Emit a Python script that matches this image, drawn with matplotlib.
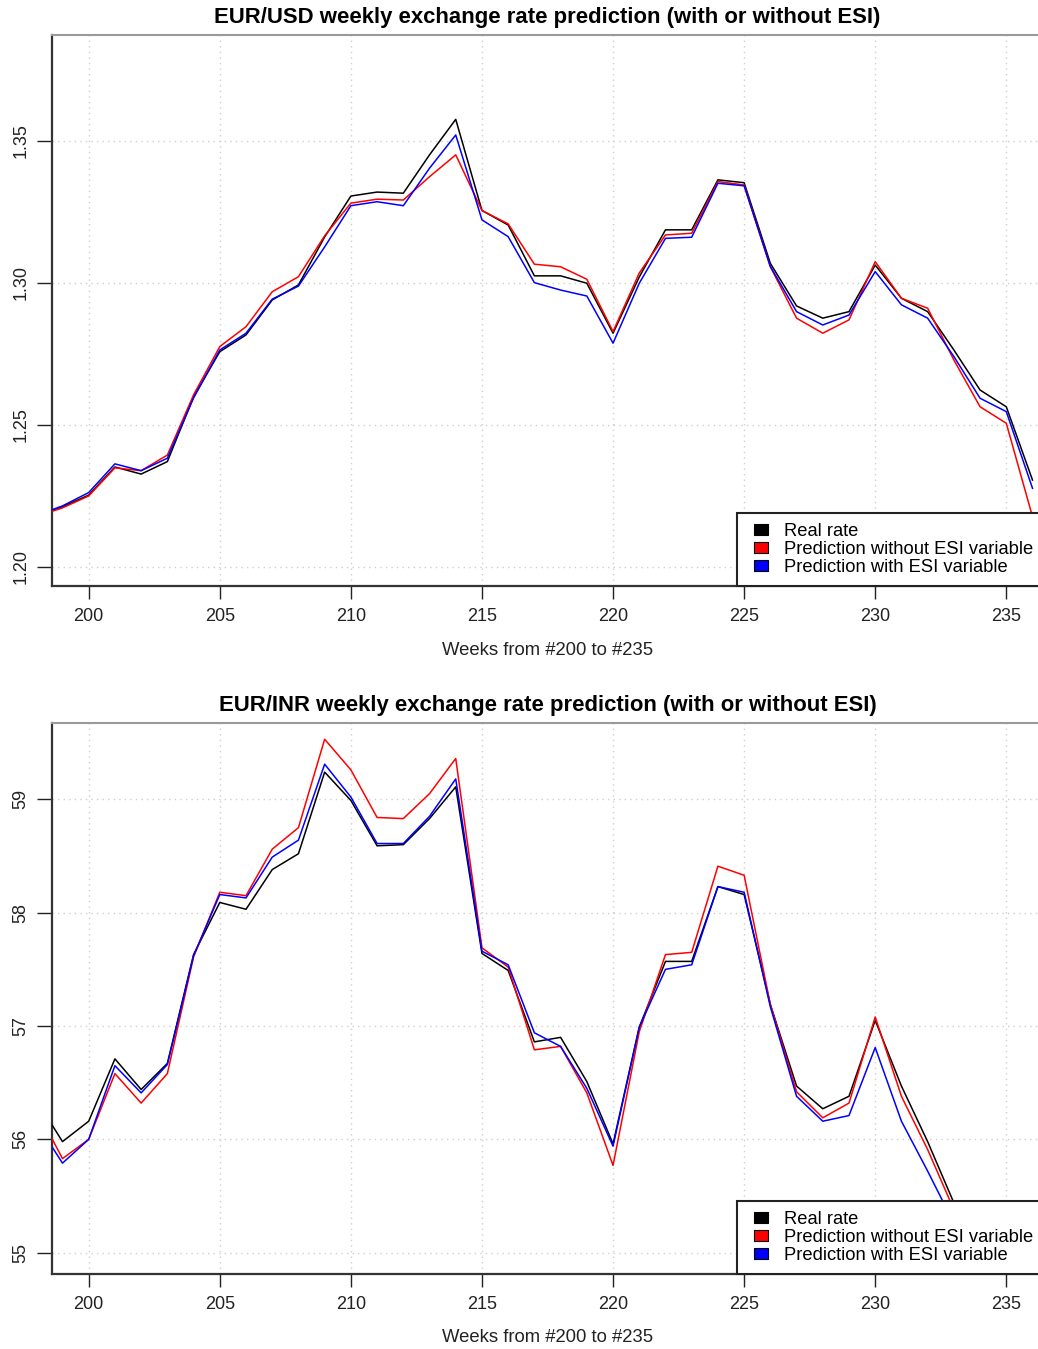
import matplotlib
matplotlib.use("Agg")
import matplotlib.pyplot as plt
from matplotlib.patches import Patch, Rectangle
from matplotlib.legend_handler import HandlerPatch

W, H, DPI = 1038, 1349, 100
FONT = "Liberation Sans"
GRID = "#cfcfcf"
SERIES_COLORS = ["black", "red", "blue"]
LEGEND_LABELS = ["Real rate", "Prediction without ESI variable", "Prediction with ESI variable"]

# EUR/USD, weeks 198..236
weeks_usd = list(range(198, 237))
real_usd = [1.2182, 1.2212, 1.2253, 1.2352, 1.2327, 1.2371, 1.2599, 1.2758, 1.2817, 1.2940,
            1.2993, 1.3162, 1.3306, 1.3320, 1.3316, 1.3451, 1.3576, 1.3255, 1.3204, 1.3025,
            1.3025, 1.2999, 1.2823, 1.3021, 1.3187, 1.3187, 1.3363, 1.3353, 1.3069, 1.2919,
            1.2876, 1.2899, 1.3063, 1.2946, 1.2899, 1.2764, 1.2623, 1.2564, 1.2306]
noesi_usd = [1.2178, 1.2208, 1.2250, 1.2349, 1.2339, 1.2394, 1.2606, 1.2776, 1.2846, 1.2969,
             1.3022, 1.3166, 1.3281, 1.3295, 1.3292, 1.3374, 1.3451, 1.3255, 1.3208, 1.3066,
             1.3057, 1.3013, 1.2829, 1.3035, 1.3169, 1.3175, 1.3357, 1.3345, 1.3057, 1.2876,
             1.2823, 1.2870, 1.3075, 1.2946, 1.2911, 1.2729, 1.2564, 1.2506, 1.2177]
esi_usd = [1.2181, 1.2215, 1.2262, 1.2363, 1.2339, 1.2383, 1.2595, 1.2764, 1.2823, 1.2943,
           1.2989, 1.3127, 1.3272, 1.3286, 1.3272, 1.3404, 1.3521, 1.3222, 1.3163, 1.3001,
           1.2975, 1.2954, 1.2788, 1.2999, 1.3157, 1.3161, 1.3351, 1.3342, 1.3058, 1.2899,
           1.2852, 1.2887, 1.3040, 1.2923, 1.2876, 1.2741, 1.2594, 1.2547, 1.2277]
yticks_usd = [1.20, 1.25, 1.30, 1.35]

# EUR/INR, weeks 198..233
weeks_inr = list(range(198, 234))
real_inr = [56.35, 55.98, 56.16, 56.71, 56.44, 56.67, 57.63, 58.09, 58.03, 58.38,
            58.52, 59.24, 58.99, 58.59, 58.60, 58.83, 59.11, 57.64, 57.49, 56.86,
            56.90, 56.51, 55.96, 56.99, 57.57, 57.57, 58.23, 58.16, 57.19, 56.47,
            56.27, 56.38, 57.05, 56.47, 55.98, 55.44]
noesi_inr = [56.27, 55.83, 56.00, 56.58, 56.32, 56.58, 57.61, 58.18, 58.15, 58.56,
             58.75, 59.53, 59.26, 58.84, 58.83, 59.05, 59.36, 57.69, 57.52, 56.79,
             56.82, 56.41, 55.77, 56.95, 57.63, 57.65, 58.41, 58.33, 57.19, 56.42,
             56.19, 56.32, 57.08, 56.38, 55.91, 55.38]
esi_inr = [56.15, 55.79, 56.00, 56.65, 56.41, 56.66, 57.62, 58.16, 58.13, 58.49,
           58.64, 59.31, 59.02, 58.61, 58.61, 58.85, 59.18, 57.66, 57.54, 56.94,
           56.82, 56.45, 55.94, 56.99, 57.50, 57.54, 58.23, 58.18, 57.17, 56.38,
           56.16, 56.21, 56.81, 56.16, 55.72, 55.26]
yticks_inr = [55, 56, 57, 58, 59]

xticks = [200, 205, 210, 215, 220, 225, 230, 235]
XLIM = (198.6, 236.4)

plt.rcParams["font.family"] = [FONT, "DejaVu Sans"]


def fill_square(legend, orig_handle, xdescent, ydescent, width, height, fontsize):
    # small filled box pushed to the right end of the handle slot
    side = 10.0
    return Rectangle((width - side - xdescent, -ydescent), side, height)


def px_axes(fig, left, top, right, bottom):
    return fig.add_axes([left / W, 1 - bottom / H, (right - left) / W, (bottom - top) / H])


def draw_panel(fig, box, weeks, series, ylim, yticks, ylabels, title):
    left, top, right, bottom = box
    ax = px_axes(fig, left, top, right, bottom)
    for vals, color in zip(series, SERIES_COLORS):
        ax.plot(weeks, vals, color=color, linewidth=1.1, zorder=3)

    ax.set_xlim(*XLIM)
    ax.set_ylim(*ylim)
    ax.set_xticks(xticks)
    ax.set_yticks(yticks)
    ax.set_yticklabels(ylabels, rotation=90, va="center")
    ax.grid(True, color=GRID, linestyle=(0, (1, 3)), linewidth=1.0, zorder=0)
    ax.tick_params(axis="x", length=9, width=1.0, pad=6.5, labelsize=13, colors="#222222")
    ax.tick_params(axis="y", length=11, width=1.0, pad=5, labelsize=13, colors="#222222")

    ax.spines["right"].set_visible(False)
    ax.spines["top"].set_color("#9a9a9a")
    ax.spines["top"].set_linewidth(1.5)
    for side in ("left", "bottom"):
        ax.spines[side].set_color("#333333")
        ax.spines[side].set_linewidth(1.6)

    handles = [Patch(facecolor=c, edgecolor="black", linewidth=0.8) for c in SERIES_COLORS]
    leg = ax.legend(handles, LEGEND_LABELS, loc="lower right", bbox_to_anchor=(1, 0),
                    borderaxespad=0, fontsize=13.2, frameon=True, fancybox=False,
                    framealpha=1, handlelength=1.17, handleheight=0.55,
                    handletextpad=0.87, labelspacing=0.07, borderpad=0.53,
                    handler_map={Patch: HandlerPatch(patch_func=fill_square)})
    leg.get_frame().set_edgecolor("#222222")
    leg.get_frame().set_linewidth(1.5)
    leg.set_zorder(5)

    xc = (left + right) / 2
    fig.text(xc / W, 1 - (top - 17) / H, title, ha="center", va="center",
             fontsize=15.9, fontweight="bold")
    fig.text(xc / W, 1 - (bottom + 64) / H, "Weeks from #200 to #235",
             ha="center", va="center", fontsize=13.3, color="#222222")
    return ax


fig = plt.figure(figsize=(W / DPI, H / DPI), dpi=DPI)
fig.patch.set_facecolor("white")

draw_panel(fig, (52, 35, 1043, 586), weeks_usd, [real_usd, noesi_usd, esi_usd],
           (1.1933, 1.3873), yticks_usd, [f"{v:.2f}" for v in yticks_usd],
           "EUR/USD weekly exchange rate prediction (with or without ESI)")
draw_panel(fig, (52, 722.7, 1043, 1274), weeks_inr, [real_inr, noesi_inr, esi_inr],
           (54.812, 59.676), yticks_inr, [str(v) for v in yticks_inr],
           "EUR/INR weekly exchange rate prediction (with or without ESI)")

fig.savefig("out.png", dpi=DPI, facecolor="white")
